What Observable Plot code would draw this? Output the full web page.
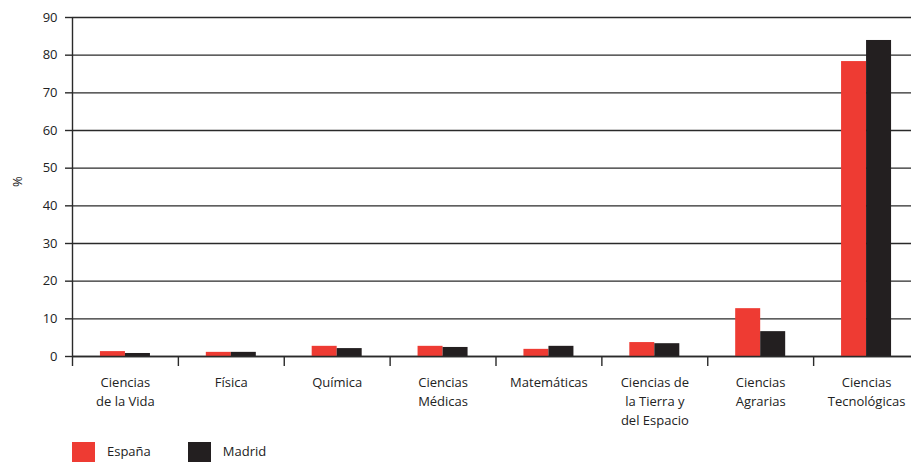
<!DOCTYPE html>
<html>
<head>
<meta charset="utf-8">
<script src="https://cdn.jsdelivr.net/npm/d3@7"></script>
<script src="https://cdn.jsdelivr.net/npm/@observablehq/plot@0.6"></script>
<style>
  html, body { margin: 0; padding: 0; background: #fff; overflow: hidden; }
  #chart svg { display: block; overflow: visible; }
  .legend { display: flex; align-items: flex-start; margin: 2px 0 0 72px; font: 13px "Open Sans", sans-serif; color: #222; }
  .legend .sw { width: 23px; height: 23px; margin-right: 12px; }
  .legend .item { display: flex; align-items: flex-start; }
  .legend .lbl { line-height: 13px; margin-top: 3px; }
</style>
</head>
<body>
<div id="chart"></div>
<div class="legend" id="legend"></div>
<script>
const categories = ["Ciencias de la Vida", "Física", "Química", "Ciencias Médicas", "Matemáticas", "Ciencias de la Tierra y del Espacio", "Ciencias Agrarias", "Ciencias Tecnológicas"];
const tickLabels = ["Ciencias\nde la Vida", "Física", "Química", "Ciencias\nMédicas", "Matemáticas", "Ciencias de\nla Tierra y\ndel Espacio", "Ciencias\nAgrarias", "Ciencias\nTecnológicas"];
const espana = [1.3, 1.1, 2.7, 2.7, 1.9, 3.7, 12.7, 78.3];
const madrid = [0.8, 1.1, 2.1, 2.4, 2.7, 3.4, 6.6, 83.9];
const series = ["España", "Madrid"];
const colors = ["#ee3b33", "#231f20"];
const yTicks = [0, 10, 20, 30, 40, 50, 60, 70, 80, 90];

const dataE = categories.map((c, i) => ({category: c, value: espana[i]}));
const dataM = categories.map((c, i) => ({category: c, value: madrid[i]}));
const labelOf = new Map(categories.map((c, i) => [c, tickLabels[i]]));

const bandW = (919 - 72) / categories.length;
const barW = 25;
const inset = (bandW - barW) / 2;

const chart = Plot.plot({
  width: 911,
  height: 440,
  marginTop: 17,
  marginLeft: 72,
  marginRight: 0,
  marginBottom: 84,
  style: {fontFamily: "'Open Sans', sans-serif", fontSize: "13px", color: "#222", background: "#fff"},
  x: {domain: categories, range: [72, 919], padding: 0, round: false, label: null},
  y: {domain: [0, 90], ticks: yTicks, label: null},
  marks: [
    Plot.gridY(yTicks, {stroke: "#2a2a2a", strokeWidth: 1.4, strokeOpacity: 1}),
    Plot.barY(dataE, {x: "category", y: "value", fill: colors[0], insetLeft: inset, insetRight: inset, dx: -12.5}),
    Plot.barY(dataM, {x: "category", y: "value", fill: colors[1], insetLeft: inset, insetRight: inset, dx: 12.5}),
    Plot.ruleY([0], {stroke: "#2a2a2a", strokeWidth: 1.4}),
    Plot.axisY({ticks: yTicks, tickSize: 7, tickPadding: 8, stroke: "#2a2a2a", strokeWidth: 1.4, fontSize: 13, fill: "#222", label: null}),
    Plot.axisX({tickSize: 10, tickFormat: null, dx: -bandW / 2, stroke: "#2a2a2a", strokeWidth: 1.4}),
    Plot.axisX({tickSize: 0, tickPadding: 17, tickFormat: d => labelOf.get(d), lineHeight: 1.45, fontSize: 13, fill: "#222", label: null}),
    Plot.ruleX([categories[0]], {dx: -bandW / 2, y1: 0, y2: 90, stroke: "#2a2a2a", strokeWidth: 1.4}),
    Plot.text(["%"], {frameAnchor: "left", dx: -55, rotate: -90, fontSize: 13, fill: "#222"})
  ]
});
document.getElementById("chart").appendChild(chart);

const legend = document.getElementById("legend");
series.forEach((s, i) => {
  const item = document.createElement("div");
  item.className = "item";
  item.style.marginRight = i === 0 ? "37px" : "0";
  const sw = document.createElement("div");
  sw.className = "sw";
  sw.style.background = colors[i];
  const lbl = document.createElement("span");
  lbl.className = "lbl";
  lbl.textContent = s;
  item.appendChild(sw);
  item.appendChild(lbl);
  legend.appendChild(item);
});
</script>
</body>
</html>
